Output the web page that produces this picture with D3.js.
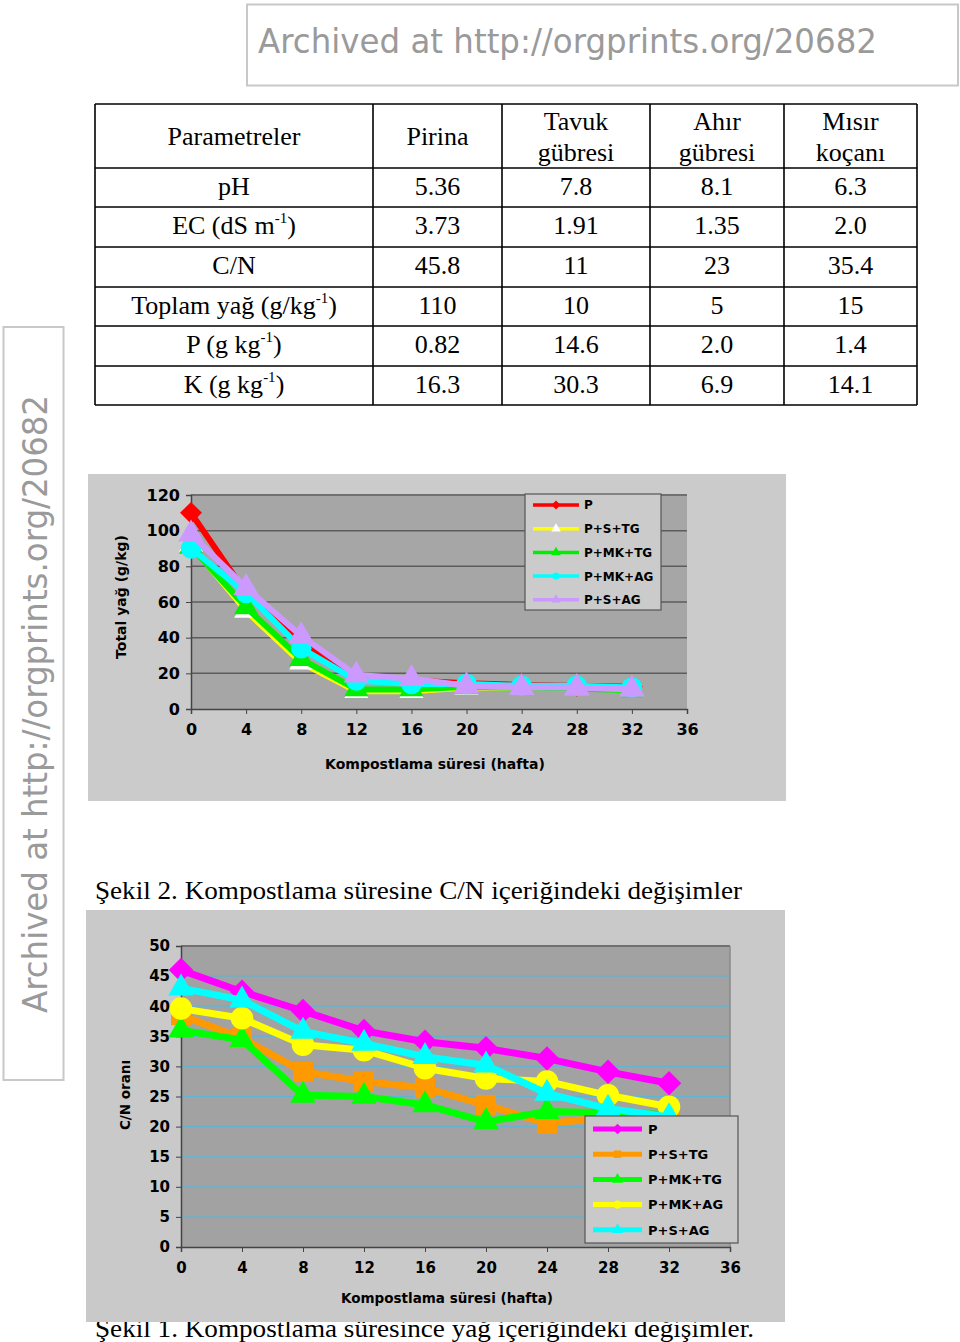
<!DOCTYPE html>
<html><head><meta charset="utf-8">
<script src="https://cdn.jsdelivr.net/npm/d3@7"></script>
<style>html,body{margin:0;padding:0;background:#fff;}svg{display:block;}</style>
</head><body>
<script>
// ---------- DATA ----------
const weeks = [0, 4, 8, 12, 16, 20, 24, 28, 32];
const xTicks = [0, 4, 8, 12, 16, 20, 24, 28, 32, 36];

// Figure 1: Total yağ (g/kg)
const fatSeriesNames = ["P", "P+S+TG", "P+MK+TG", "P+MK+AG", "P+S+AG"];
const fatP      = [110, 65, 38, 18, 16, 14.5, 13.5, 13, 12.5];
const fatPSTG   = [92, 55, 26, 10, 10, 12, 12, 11.5, 11];
const fatPMKTG  = [91, 57, 28, 11, 11, 12.5, 12, 11.5, 10.5];
const fatPMKAG  = [90, 65, 34, 16, 14, 14, 13, 13, 12];
const fatPSAG   = [98, 68, 41, 19, 17, 13, 12, 12, 11];
const fatYTicks = [0, 20, 40, 60, 80, 100, 120];

// Figure 2: C/N oranı
const cnSeriesNames = ["P", "P+S+TG", "P+MK+TG", "P+MK+AG", "P+S+AG"];
const cnP      = [46, 42.4, 39.2, 35.9, 34.1, 33, 31.3, 29.1, 27.2];
const cnPSTG   = [38.5, 34.7, 29.1, 27.5, 26.4, 23.6, 20.5, 21.5, 22];
const cnPMKTG  = [36, 34.4, 25.2, 25, 23.6, 20.8, 22.5, 22.3, 22];
const cnPMKAG  = [39.6, 38, 33.6, 32.7, 29.7, 28, 27.5, 25.2, 23.3];
const cnPSAG   = [43, 41, 35.8, 33.8, 31.6, 30.2, 25.5, 23, 21.6];
const cnYTicks = [0, 5, 10, 15, 20, 25, 30, 35, 40, 45, 50];

// Table
const tableHeaders = [["Parametreler"], ["Pirina"], ["Tavuk", "gübresi"], ["Ahır", "gübresi"], ["Mısır", "koçanı"]];
const tableParams = [[["pH", ""]], [["EC (dS m", "-1"], [")", ""]], [["C/N", ""]],
  [["Toplam yağ (g/kg", "-1"], [")", ""]], [["P (g kg", "-1"], [")", ""]], [["K (g kg", "-1"], [")", ""]]];
const pirina = ["5.36", "3.73", "45.8", "110", "0.82", "16.3"];
const tavuk  = ["7.8", "1.91", "11", "10", "14.6", "30.3"];
const ahir   = ["8.1", "1.35", "23", "5", "2.0", "6.9"];
const misir  = ["6.3", "2.0", "35.4", "15", "1.4", "14.1"];

const archiveText = "Archived at http://orgprints.org/20682";
const caption2 = "Şekil 2. Kompostlama süresine C/N içeriğindeki değişimler";
const caption1 = "Şekil 1. Kompostlama süresince yağ içeriğindeki değişimler.";

// ---------- SVG ----------
const svg = d3.select("body").append("svg").attr("width", 960).attr("height", 1342)
  .style("font-family", "'DejaVu Sans', Verdana, sans-serif");
svg.append("rect").attr("width", 960).attr("height", 1342).attr("fill", "#fff");

// Archive banners
svg.append("rect").attr("x", 247).attr("y", 4.5).attr("width", 711).attr("height", 81)
  .attr("fill", "#fff").attr("stroke", "#c8c8c8").attr("stroke-width", 2);
svg.append("text").attr("x", 258).attr("y", 53).attr("font-size", 33).attr("fill", "#9a9a9a")
  .attr("textLength", 619).attr("lengthAdjust", "spacingAndGlyphs").text(archiveText);
svg.append("rect").attr("x", 3.5).attr("y", 327).attr("width", 60).attr("height", 753)
  .attr("fill", "#fff").attr("stroke", "#c8c8c8").attr("stroke-width", 2);
svg.append("text").attr("transform", "translate(47,1013) rotate(-90)").attr("font-size", 33)
  .attr("fill", "#9a9a9a").attr("textLength", 618).attr("lengthAdjust", "spacingAndGlyphs").text(archiveText);

// ---------- TABLE ----------
const colX = [95, 373, 502, 650, 784, 917];
const rowY = [104, 168, 207, 247, 287, 326, 366, 405];
const tg = svg.append("g").style("font-family", "'Liberation Serif', 'Times New Roman', serif")
  .attr("font-size", 26).attr("fill", "#000");
tg.selectAll("line.h").data(rowY).join("line").attr("x1", colX[0]).attr("x2", colX[5])
  .attr("y1", d => d).attr("y2", d => d).attr("stroke", "#000").attr("stroke-width", 1.6);
tg.selectAll("line.v").data(colX).join("line").attr("y1", rowY[0]).attr("y2", rowY[7])
  .attr("x1", d => d).attr("x2", d => d).attr("stroke", "#000").attr("stroke-width", 1.6);
tableHeaders.forEach((h, i) => {
  const cx = (colX[i] + colX[i + 1]) / 2;
  const t = tg.append("text").attr("text-anchor", "middle").attr("x", cx);
  if (h.length === 1) t.attr("y", 145).text(h[0]);
  else { t.append("tspan").attr("x", cx).attr("y", 130).text(h[0]);
         t.append("tspan").attr("x", cx).attr("y", 161).text(h[1]); }
});
const cols = [pirina, tavuk, ahir, misir];
tableParams.forEach((parts, r) => {
  const base = rowY[r + 1] + 27;
  const t = tg.append("text").attr("text-anchor", "middle").attr("x", (colX[0] + colX[1]) / 2).attr("y", base);
  let pending = 0;
  parts.forEach(([txt, sup]) => {
    t.append("tspan").attr("dy", pending).text(txt);
    pending = 0;
    if (sup) { t.append("tspan").attr("font-size", 15).attr("dy", -11).text(sup); pending = 11; }
  });
  cols.forEach((c, ci) => {
    tg.append("text").attr("text-anchor", "middle").attr("x", (colX[ci + 1] + colX[ci + 2]) / 2)
      .attr("y", base).text(c[r]);
  });
});

// ---------- marker helper ----------
function marker(type, size) {
  if (type === "diamond") return d3.symbol(d3.symbolSquare, size)();
  const map = { triangle: d3.symbolTriangle, circle: d3.symbolCircle, square: d3.symbolSquare };
  return d3.symbol(map[type], size)();
}

// ---------- CAPTIONS (drawn before chart backgrounds) ----------
svg.append("text").attr("x", 95).attr("y", 899).attr("font-size", 25)
  .style("font-family", "'Liberation Serif', serif").attr("textLength", 647)
  .attr("lengthAdjust", "spacingAndGlyphs").text(caption2);
svg.append("text").attr("x", 95).attr("y", 1337).attr("font-size", 25)
  .style("font-family", "'Liberation Serif', serif").attr("textLength", 659)
  .attr("lengthAdjust", "spacingAndGlyphs").text(caption1);

// ---------- CHART BUILDER ----------
function drawChart(cfg) {
  const g = svg.append("g");
  g.append("rect").attr("x", cfg.outer[0]).attr("y", cfg.outer[1]).attr("width", cfg.outer[2])
    .attr("height", cfg.outer[3]).attr("fill", cfg.outerFill);
  const x = d3.scaleLinear().domain([0, 36]).range([cfg.px0, cfg.px1]);
  const y = d3.scaleLinear().domain([0, cfg.yMax]).range([cfg.py0, cfg.py1]);
  g.append("rect").attr("x", cfg.px0).attr("y", cfg.py1).attr("width", cfg.px1 - cfg.px0)
    .attr("height", cfg.py0 - cfg.py1).attr("fill", cfg.plotFill);
  g.append("g").selectAll("line").data(cfg.yTicks.filter(d => d > 0)).join("line")
    .attr("x1", cfg.px0).attr("x2", cfg.px1).attr("y1", d => y(d)).attr("y2", d => y(d))
    .attr("stroke", cfg.gridColor).attr("stroke-width", cfg.gridWidth);
  if (cfg.topBorder) g.append("line").attr("x1", cfg.px0).attr("x2", cfg.px1).attr("y1", cfg.py1)
    .attr("y2", cfg.py1).attr("stroke", "#707070").attr("stroke-width", 2);
  if (cfg.rightBorder) g.append("line").attr("x1", cfg.px1).attr("x2", cfg.px1).attr("y1", cfg.py1)
    .attr("y2", cfg.py0).attr("stroke", "#8a8a8a").attr("stroke-width", 1.5);
  const yAxis = d3.axisLeft(y).tickValues(cfg.yTicks).tickSize(5).tickPadding(cfg.yPad).tickFormat(d3.format("d"));
  const xAxis = d3.axisBottom(x).tickValues(xTicks).tickSize(5).tickPadding(cfg.xPad).tickFormat(d3.format("d"));
  const ya = g.append("g").attr("transform", `translate(${cfg.px0},0)`).call(yAxis);
  const xa = g.append("g").attr("transform", `translate(0,${cfg.py0})`).call(xAxis);
  [ya, xa].forEach(a => {
    a.select(".domain").attr("stroke", "#444").attr("stroke-width", 1.5);
    a.selectAll(".tick line").attr("stroke", "#444");
    a.selectAll(".tick text").attr("font-size", cfg.tickFont).attr("font-weight", "bold")
      .attr("fill", "#000").style("font-family", "'DejaVu Sans', sans-serif");
  });
  g.append("text").attr("x", cfg.xTitle[0]).attr("y", cfg.xTitle[1]).attr("text-anchor", "middle")
    .attr("font-size", cfg.titleFont).attr("font-weight", "bold").text("Kompostlama süresi (hafta)");
  g.append("text").attr("transform", `translate(${cfg.yTitle[0]},${cfg.yTitle[1]}) rotate(-90)`)
    .attr("text-anchor", "middle").attr("font-size", cfg.titleFont).attr("font-weight", "bold").text(cfg.yLabel);
  const line = d3.line().x((d, i) => x(weeks[i])).y(d => y(d));
  cfg.series.forEach(s => {
    const sg = g.append("g");
    sg.append("path").attr("d", line(s.values)).attr("fill", "none").attr("stroke", s.color)
      .attr("stroke-width", cfg.lineWidth).attr("stroke-linejoin", "round");
    sg.selectAll("path.m").data(s.values).join("path").attr("class", "m")
      .attr("d", marker(s.marker, s.size))
      .attr("transform", (d, i) => `translate(${x(weeks[i])},${y(d)})${s.marker === "diamond" ? " rotate(45)" : ""}`)
      .attr("fill", s.markerFill || s.color).attr("stroke", s.markerStroke || "none").attr("stroke-width", 1.5);
  });
  const L = cfg.legend;
  g.append("rect").attr("x", L.x).attr("y", L.y).attr("width", L.w).attr("height", L.h)
    .attr("fill", cfg.outerFill).attr("stroke", "#555").attr("stroke-width", 1.2);
  cfg.series.forEach((s, i) => {
    const yy = L.y + L.first + i * L.step;
    g.append("line").attr("x1", L.x + L.l0).attr("x2", L.x + L.l1).attr("y1", yy).attr("y2", yy)
      .attr("stroke", s.color).attr("stroke-width", L.lw);
    g.append("path").attr("d", marker(s.marker, L.msize))
      .attr("transform", `translate(${L.x + (L.l0 + L.l1) / 2},${yy})${s.marker === "diamond" ? " rotate(45)" : ""}`)
      .attr("fill", s.markerFill || s.color).attr("stroke", s.markerStroke || "none");
    g.append("text").attr("x", L.x + L.tx).attr("y", yy + L.font * 0.37).attr("font-size", L.font)
      .attr("font-weight", "bold").text(s.name);
  });
}

// Figure 1
drawChart({
  outer: [88, 474, 698, 327], outerFill: "#cbcbcb", plotFill: "#a6a6a6",
  px0: 191, px1: 687, py0: 709, py1: 495, yMax: 120, yTicks: fatYTicks,
  gridColor: "#5c5c5c", gridWidth: 1.5, topBorder: true, rightBorder: false,
  yPad: 6, xPad: 10, tickFont: 16, titleFont: 14,
  xTitle: [435, 769], yTitle: [126, 597], yLabel: "Total yağ (g/kg)", lineWidth: 6,
  series: [
    { name: fatSeriesNames[0], values: fatP, color: "#ff0000", marker: "diamond", size: 240 },
    { name: fatSeriesNames[1], values: fatPSTG, color: "#ffff00", marker: "triangle", size: 250, markerFill: "#ffffff" },
    { name: fatSeriesNames[2], values: fatPMKTG, color: "#00ee00", marker: "triangle", size: 250 },
    { name: fatSeriesNames[3], values: fatPMKAG, color: "#00ffff", marker: "circle", size: 330 },
    { name: fatSeriesNames[4], values: fatPSAG, color: "#cc99ff", marker: "triangle", size: 280 }
  ],
  legend: { x: 525, y: 494, w: 136, h: 116, first: 11, step: 23.7, l0: 8, l1: 54, tx: 59, font: 12, lw: 3.5, msize: 40 }
});

// Figure 2
drawChart({
  outer: [86, 910, 699, 412], outerFill: "#c9c9c9", plotFill: "#a2a2a2",
  px0: 181, px1: 730, py0: 1247, py1: 946, yMax: 50, yTicks: cnYTicks,
  gridColor: "#5eb4d4", gridWidth: 1, topBorder: true, rightBorder: true,
  yPad: 6, xPad: 10, tickFont: 15, titleFont: 13.5,
  xTitle: [447, 1303], yTitle: [130, 1095], yLabel: "C/N oranı", lineWidth: 7,
  series: [
    { name: cnSeriesNames[0], values: cnP, color: "#ff00ff", marker: "diamond", size: 300 },
    { name: cnSeriesNames[1], values: cnPSTG, color: "#ff9900", marker: "square", size: 400 },
    { name: cnSeriesNames[2], values: cnPMKTG, color: "#00ff00", marker: "triangle", size: 280 },
    { name: cnSeriesNames[3], values: cnPMKAG, color: "#ffff00", marker: "circle", size: 400 },
    { name: cnSeriesNames[4], values: cnPSAG, color: "#00ffff", marker: "triangle", size: 280 }
  ],
  legend: { x: 585, y: 1116, w: 153, h: 127, first: 13, step: 25.2, l0: 8, l1: 57, tx: 63, font: 13, lw: 5, msize: 55 }
});
</script>
</body></html>
